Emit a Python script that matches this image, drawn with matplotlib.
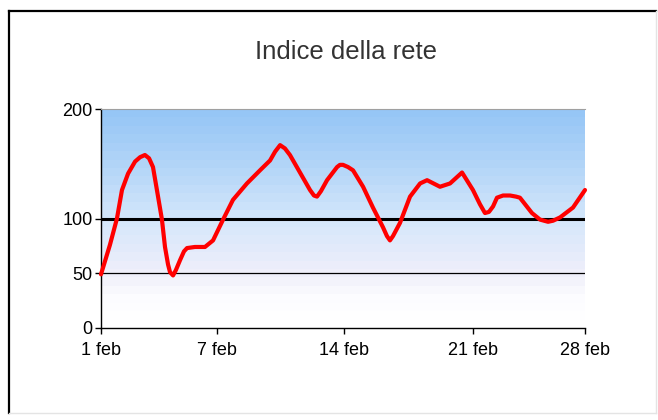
import numpy as np
import matplotlib
matplotlib.use('Agg')
from matplotlib import pyplot as plt
from matplotlib import font_manager
from matplotlib.colors import LinearSegmentedColormap
from matplotlib.lines import Line2D

# 資料：日期 (2 月的第幾天) 與網路指數
DAYS = [1.00, 1.50, 1.89, 2.17, 2.51, 2.90, 3.18, 3.45, 3.68, 3.90, 4.12,
        4.40, 4.57, 4.74, 4.85, 5.02, 5.18, 5.41, 5.63, 5.80, 6.24, 6.80,
        7.25, 7.81, 8.36, 9.14, 9.87, 10.43, 10.71, 10.99, 11.26, 11.54,
        12.10, 12.66, 12.88, 13.05, 13.27, 13.61, 14.17, 14.33, 14.50,
        14.78, 15.06, 15.62, 16.17, 16.73, 16.95, 17.12, 17.29, 17.68,
        18.24, 18.80, 19.19, 19.91, 20.47, 21.14, 21.75, 22.14, 22.42,
        22.64, 22.87, 23.09, 23.43, 23.82, 24.15, 24.37, 25.04, 25.49,
        25.71, 25.94, 26.22, 26.61, 27.33, 28.00]
VALUES = [49, 76, 100, 126, 141, 152, 156, 158, 155, 147, 126,
          99, 74, 58, 51, 48, 53, 62, 70, 73, 74, 74,
          80, 99, 117, 132, 144, 153, 161, 167, 164, 158,
          142, 126, 121, 120, 125, 135, 147, 149, 149,
          147, 144, 129, 110, 92, 84, 80, 84, 96,
          120, 132, 135, 129, 132, 142, 126, 113, 105,
          106, 111, 119, 121, 121, 120, 119, 105, 99,
          98, 97, 98, 101, 110, 126]

TITLE = 'Indice della rete'
Y_TICKS = [0, 50, 100, 200]
X_TICK_LABELS = ['1 feb', '7 feb', '14 feb', '21 feb', '28 feb']
X_TICK_POS = [1, 7.47, 14.56, 21.75, 28]

W, H = 658, 420


def pick_font(names):
    avail = {f.name for f in font_manager.fontManager.ttflist}
    for n in names:
        if n in avail:
            return n
    return 'DejaVu Sans'


def main():
    base = pick_font(['Liberation Sans', 'Arial'])
    plt.rcParams['font.family'] = [base, 'DejaVu Sans']

    fig = plt.figure(figsize=(W / 100, H / 100), dpi=100)
    fig.patch.set_facecolor('white')

    # 外框：上與左為黑色，下與右為淺灰
    x0, x1 = 8.5 / W, 656 / W
    y0, y1 = 1 - 413 / H, 1 - 10.5 / H
    fig.add_artist(Line2D([x0, x1], [y1, y1], color='black', lw=1.6,
                          transform=fig.transFigure))
    fig.add_artist(Line2D([x0, x0], [y0, y1], color='black', lw=1.6,
                          transform=fig.transFigure))
    fig.add_artist(Line2D([x0, x1], [y0, y0], color='#e4e4e4', lw=1.0,
                          transform=fig.transFigure))
    fig.add_artist(Line2D([x1, x1], [y0, y1], color='#e4e4e4', lw=1.0,
                          transform=fig.transFigure))

    ax = fig.add_axes([101 / W, 1 - 328 / H, 484 / W, 219 / H])
    ax.set_xlim(1, 28)
    ax.set_ylim(0, 200)

    # 背景漸層 (由藍到白)
    cmap = LinearSegmentedColormap.from_list('bg', [
        (0.0, '#ffffff'), (0.12, '#fcfcff'), (0.25, '#eeeefa'),
        (0.5, '#d4e7fb'), (0.75, '#b3d5f8'), (1.0, '#96c6f6')])
    grad = np.linspace(0, 1, 26).reshape(-1, 1)
    ax.imshow(grad, extent=[1, 28, 0, 200], origin='lower', aspect='auto',
              cmap=cmap, interpolation='nearest', zorder=0)

    ax.axhline(100, color='black', lw=2.2, zorder=2)
    ax.axhline(50, color='black', lw=0.9, zorder=2)
    ax.plot(DAYS, VALUES, color='#ff0000', lw=3.0, solid_joinstyle='round',
            solid_capstyle='round', zorder=3, clip_on=False)

    ax.spines['right'].set_visible(False)
    ax.spines['top'].set_color('#a0a0a0')
    ax.spines['left'].set_linewidth(1.0)
    ax.spines['bottom'].set_linewidth(1.0)

    ax.set_yticks(Y_TICKS)
    ax.set_yticklabels([str(v) for v in Y_TICKS])
    ax.set_xticks(X_TICK_POS)
    ax.set_xticklabels(X_TICK_LABELS)
    ax.tick_params(axis='both', direction='out', length=4, width=1.0,
                   labelsize=13, colors='black')
    ax.tick_params(axis='y', pad=2)
    ax.tick_params(axis='x', pad=6)

    fig.text(346 / W, 1 - 52 / H, TITLE, ha='center', va='center',
             fontsize=18.5, color='#333333')

    fig.savefig('out.png', dpi=100)


if __name__ == '__main__':
    main()
